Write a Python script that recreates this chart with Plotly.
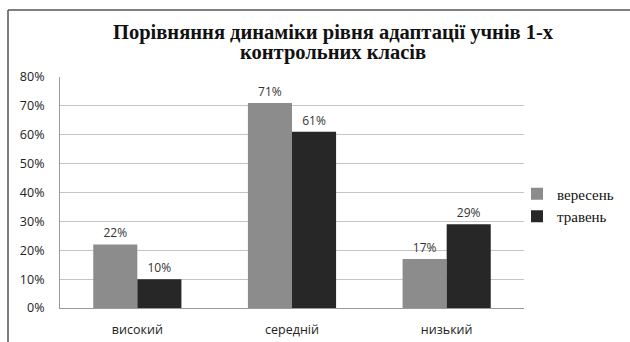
import plotly.graph_objects as go

categories = ["високий", "середній", "низький"]
september = [22, 71, 17]
may = [10, 61, 29]
series_names = ["вересень", "травень"]
y_ticks = [0, 10, 20, 30, 40, 50, 60, 70, 80]
title_lines = ["Порівняння динаміки рівня адаптації учнів 1-х", "контрольних класів"]

W, H = 630, 342
L, R, T, B = 60, 106, 77, 34
pw, ph = W - L - R, H - T - B


def px(x):
    return (x - L) / pw


def py(y):
    return (H - B - y) / ph


fig = go.Figure()
for name, vals, color in [(series_names[0], september, "#8c8c8c"),
                          (series_names[1], may, "#272727")]:
    fig.add_trace(go.Bar(
        x=categories, y=vals, name=name,
        marker=dict(color=color, line=dict(width=0)),
        text=[f"{v}%" for v in vals], textposition="outside",
        textfont=dict(family="Open Sans, sans-serif", size=12, color="#333333"),
        cliponaxis=False,
    ))

title_font = dict(family="Liberation Serif, serif", size=20.5, color="#111111", weight="bold")
annotations = [
    dict(text=title_lines[0], xref="paper", yref="paper", x=px(333), y=py(32),
         xanchor="center", yanchor="middle", showarrow=False, font=title_font),
    dict(text=title_lines[1], xref="paper", yref="paper", x=px(333), y=py(53),
         xanchor="center", yanchor="middle", showarrow=False, font=title_font),
]

tick_font = dict(family="Open Sans, sans-serif", size=12.5, color="#222222")

fig.update_layout(
    width=W, height=H,
    margin=dict(l=L, r=R, t=T, b=B, autoexpand=False),
    paper_bgcolor="white", plot_bgcolor="white",
    barmode="group", bargap=0.43, bargroupgap=0,
    showlegend=True,
    legend=dict(
        x=px(517), xanchor="left", y=py(205), yanchor="middle",
        font=dict(family="Liberation Serif, serif", size=15, color="#111111"),
        itemwidth=30, bgcolor="rgba(0,0,0,0)",
    ),
    xaxis=dict(
        showline=True, linecolor="#9a9a9a", linewidth=1,
        ticks="outside", ticklen=10, tickcolor="rgba(0,0,0,0)",
        tickfont=tick_font,
    ),
    yaxis=dict(
        range=[0, 80], tickvals=y_ticks, ticktext=[f"{v}%" for v in y_ticks],
        showgrid=True, gridcolor="#c4c4c4", gridwidth=1,
        showline=True, linecolor="#9a9a9a", linewidth=1,
        zeroline=False, ticks="", ticklabelstandoff=12,
        tickfont=tick_font,
    ),
    annotations=annotations,
    shapes=[
        dict(type="line", xref="paper", yref="paper",
             x0=px(8), x1=px(W + 5), y0=py(10), y1=py(10),
             line=dict(color="#555555", width=1.5)),
        dict(type="line", xref="paper", yref="paper",
             x0=px(8), x1=px(8), y0=py(10), y1=py(H + 5),
             line=dict(color="#555555", width=1.5)),
    ],
)

fig.write_html("out.html")
